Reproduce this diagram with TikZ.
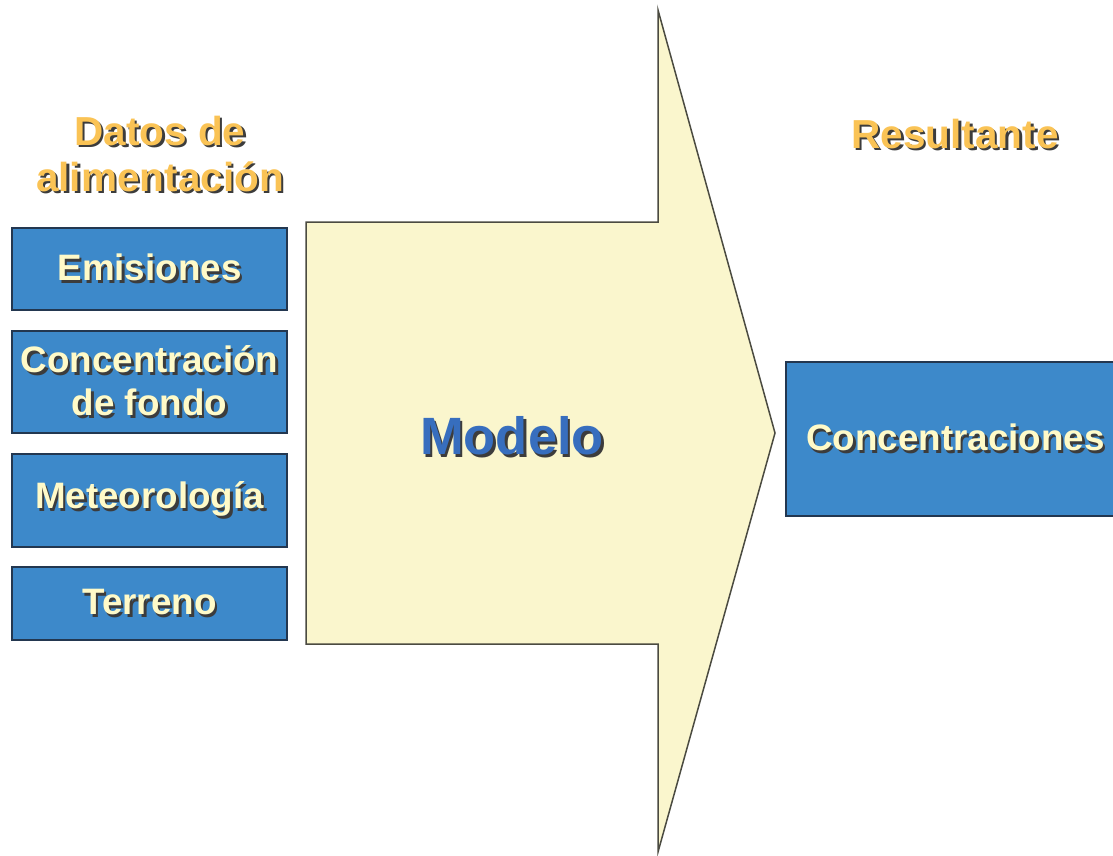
\documentclass[tikz,border=0pt]{standalone}
\usepackage{fontspec}
\setmainfont{Liberation Sans}
\usetikzlibrary{positioning}
\definecolor{boxblue}{RGB}{61,137,202}
\definecolor{boxline}{RGB}{35,55,80}
\definecolor{cream}{RGB}{255,250,200}
\definecolor{gold}{RGB}{250,195,85}
\definecolor{modelblue}{RGB}{55,110,190}
\definecolor{arrowfill}{RGB}{250,246,205}
\definecolor{arrowline}{RGB}{75,75,65}
\definecolor{shade}{RGB}{60,60,60}
\newcommand\shtext[2]{\rlap{\hspace{2.5pt}\raisebox{-2.5pt}{\textcolor{shade}{#2}}}\textcolor{#1}{#2}}
\tikzset{x=1pt,y=-1pt,
  inbox/.style={draw=boxline,fill=boxblue,line width=1.5pt,minimum width=275pt,inner sep=0pt,
    font=\fontsize{36.8}{43}\selectfont\bfseries,align=center},
  header/.style={font=\fontsize{40.5}{46}\selectfont\bfseries,align=center}}

\begin{document}
\begin{tikzpicture}
        \useasboundingbox (0,0) rectangle (1113,855);
        \clip (0,0) rectangle (1113,855);
        \draw[fill=arrowfill,draw=arrowline,line width=1.5pt] (306,222) -- (658,222) -- (658,10)
            -- (775,433) -- (658,852) -- (658,644) -- (306,644) -- cycle;
        \node[font=\fontsize{52.5}{60}\selectfont\bfseries] (modelo) at (512,437) {\shtext{modelblue}{Modelo}};
        \node[inbox,minimum height=82pt] (emis) at (149.5,269) {\shtext{cream}{Emisiones}};
        \node[inbox,minimum height=102pt] (fondo) at (149.5,382) {\shtext{cream}{Concentración}\\\shtext{cream}{de fondo}};
        \node[inbox,minimum height=93pt] (meteo) at (149.5,500.5) {\shtext{cream}{Meteorología}};
        \node[inbox,minimum height=73pt] (terreno) at (149.5,603.5) {\shtext{cream}{Terreno}};
        \node[inbox,minimum width=339pt,minimum height=154pt] (conc) at (955.5,439) {\shtext{cream}{Concentraciones}};
        \node[header] (datos) at (160,155) {\shtext{gold}{Datos de}\\\shtext{gold}{alimentación}};
        \node[header] (result) at (955,135) {\shtext{gold}{Resultante}};
    \end{tikzpicture}
\end{document}
